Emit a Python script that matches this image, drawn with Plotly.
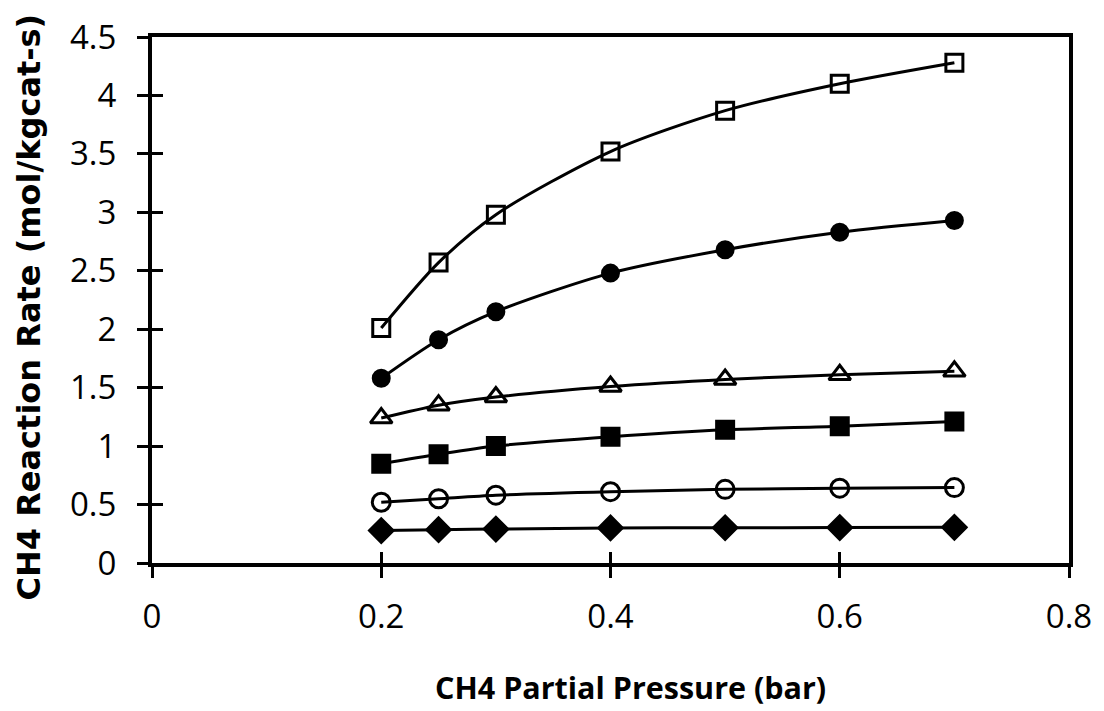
import plotly.graph_objects as go

# CH4 partial pressure (bar)
pressure = [0.2, 0.25, 0.3, 0.4, 0.5, 0.6, 0.7]

# reaction rates (mol/kgcat-s), one list per curve, top to bottom
rate_open_square = [2.01, 2.57, 2.98, 3.52, 3.87, 4.10, 4.28]
rate_filled_circle = [1.58, 1.91, 2.15, 2.48, 2.68, 2.83, 2.93]
rate_open_triangle = [1.24, 1.35, 1.42, 1.51, 1.57, 1.61, 1.64]
rate_filled_square = [0.85, 0.93, 1.00, 1.08, 1.14, 1.17, 1.21]
rate_open_circle = [0.52, 0.55, 0.58, 0.61, 0.63, 0.64, 0.645]
rate_diamond = [0.277, 0.285, 0.29, 0.30, 0.302, 0.303, 0.305]

x_ticks = [0, 0.2, 0.4, 0.6, 0.8]
y_ticks = [0, 0.5, 1, 1.5, 2, 2.5, 3, 3.5, 4, 4.5]

series = [
    (rate_open_square, 'square-open', 17),
    (rate_filled_circle, 'circle', 16),
    (rate_open_triangle, 'triangle-up-open', 19),
    (rate_filled_square, 'square', 17),
    (rate_open_circle, 'circle-open', 18),
    (rate_diamond, 'diamond', 18),
]

fig = go.Figure()

for values, symbol, size in series:
    fig.add_trace(go.Scatter(
        x=pressure,
        y=values,
        mode='lines+markers',
        line=dict(color='black', width=3, shape='spline', smoothing=0.8),
        marker=dict(symbol=symbol, size=size, color='black',
                    line=dict(color='black', width=3)),
        showlegend=False,
    ))

font_family = 'Open Sans, sans-serif'

fig.update_layout(
    width=1104,
    height=711,
    margin=dict(l=152, r=33, t=37, b=148),
    plot_bgcolor='white',
    paper_bgcolor='white',
    font=dict(family=font_family, color='black', size=33),
    xaxis=dict(
        range=[0, 0.8], tickvals=x_ticks, ticktext=[f'{v:g}' for v in x_ticks],
        showgrid=False, zeroline=False,
        showline=True, linewidth=4, linecolor='black', mirror=True,
        ticks='outside', ticklen=11, tickwidth=3, tickcolor='black',
        tickfont=dict(size=33), ticklabelstandoff=10,
    ),
    yaxis=dict(
        range=[0, 4.5], tickvals=y_ticks, ticktext=[f'{v:g}' for v in y_ticks],
        showgrid=False, zeroline=False,
        showline=True, linewidth=4, linecolor='black', mirror=True,
        ticks='outside', ticklen=11, tickwidth=3, tickcolor='black',
        tickfont=dict(size=33), ticklabelstandoff=14,
    ),
    # overlay axes that only draw the inner half of the crossing tick marks
    xaxis2=dict(
        overlaying='x', matches='x', range=[0, 0.8], tickvals=x_ticks,
        showticklabels=False, showgrid=False, zeroline=False, showline=False,
        ticks='inside', ticklen=11, tickwidth=3, tickcolor='black',
    ),
    yaxis2=dict(
        overlaying='y', matches='y', range=[0, 4.5], tickvals=y_ticks,
        showticklabels=False, showgrid=False, zeroline=False, showline=False,
        ticks='inside', ticklen=11, tickwidth=3, tickcolor='black',
    ),
)

# axis titles as annotations so they can sit off-centre like the reference
fig.add_annotation(
    text='<b>CH4 Partial Pressure (bar)</b>', xref='paper', yref='paper',
    x=0.522, y=-0.236, xanchor='center', yanchor='middle', showarrow=False,
    font=dict(family=font_family, size=30.5, color='black'),
)
fig.add_annotation(
    text='<b>CH4 Reaction Rate (mol/kgcat-s)</b>', xref='paper', yref='paper',
    x=-0.134, y=0.486, xanchor='center', yanchor='middle', showarrow=False,
    textangle=-90,
    font=dict(family='DejaVu Sans, sans-serif', size=32, color='black'),
)

# invisible trace so the overlay axes get drawn
fig.add_trace(go.Scatter(x=[None], y=[None], xaxis='x2', yaxis='y2',
                         showlegend=False, hoverinfo='skip'))

# drop the browser's default body margin so the figure fills the window exactly
fig.write_html(
    "out.html",
    config={'displayModeBar': False},
    post_script="document.body.style.margin='0';document.body.style.overflow='hidden';",
)
